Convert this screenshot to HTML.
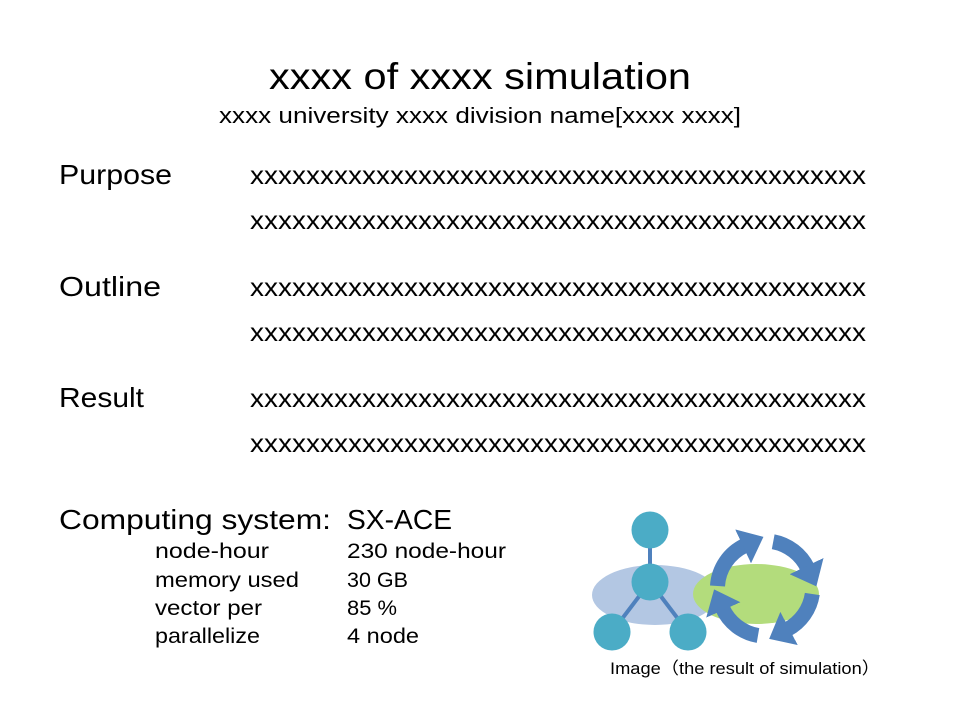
<!DOCTYPE html>
<html><head><meta charset="utf-8"><style>html,body{margin:0;padding:0;background:#fff}svg{display:block}</style></head>
<body>
<svg width="960" height="720" viewBox="0 0 960 720" xmlns="http://www.w3.org/2000/svg" font-family="'Liberation Sans', sans-serif" fill="#000">
<defs>
<marker id="ah" viewBox="0 0 10 10" refX="1" refY="5" markerUnits="strokeWidth" markerWidth="1.5" markerHeight="2.5" orient="auto" preserveAspectRatio="none">
<path d="M0,0 L10,5 L0,10 z" fill="#4f81bd"/></marker>
</defs>
<text x="480" y="89" font-size="37" text-anchor="middle" textLength="422" lengthAdjust="spacingAndGlyphs">xxxx of xxxx simulation</text>
<text x="480" y="123" font-size="22" text-anchor="middle" textLength="522" lengthAdjust="spacingAndGlyphs">xxxx university xxxx division  name[xxxx xxxx]</text>

<g font-size="28">
<text x="59" y="184" textLength="113" lengthAdjust="spacingAndGlyphs">Purpose</text>
<text x="59" y="296" textLength="102" lengthAdjust="spacingAndGlyphs">Outline</text>
<text x="59" y="407" textLength="85" lengthAdjust="spacingAndGlyphs">Result</text>
</g>
<g font-size="26">
<text x="250" y="184" textLength="616" lengthAdjust="spacingAndGlyphs">xxxxxxxxxxxxxxxxxxxxxxxxxxxxxxxxxxxxxxxxxxxx</text>
<text x="250" y="229" textLength="616" lengthAdjust="spacingAndGlyphs">xxxxxxxxxxxxxxxxxxxxxxxxxxxxxxxxxxxxxxxxxxxx</text>
<text x="250" y="296" textLength="616" lengthAdjust="spacingAndGlyphs">xxxxxxxxxxxxxxxxxxxxxxxxxxxxxxxxxxxxxxxxxxxx</text>
<text x="250" y="341" textLength="616" lengthAdjust="spacingAndGlyphs">xxxxxxxxxxxxxxxxxxxxxxxxxxxxxxxxxxxxxxxxxxxx</text>
<text x="250" y="407" textLength="616" lengthAdjust="spacingAndGlyphs">xxxxxxxxxxxxxxxxxxxxxxxxxxxxxxxxxxxxxxxxxxxx</text>
<text x="250" y="452" textLength="616" lengthAdjust="spacingAndGlyphs">xxxxxxxxxxxxxxxxxxxxxxxxxxxxxxxxxxxxxxxxxxxx</text>
</g>

<text x="59" y="529" font-size="28" textLength="272" lengthAdjust="spacingAndGlyphs">Computing system:</text>
<text x="347" y="529" font-size="28" textLength="105" lengthAdjust="spacingAndGlyphs">SX-ACE</text>
<g font-size="21">
<text x="155" y="558" textLength="114" lengthAdjust="spacingAndGlyphs">node-hour</text>
<text x="155" y="587" textLength="144" lengthAdjust="spacingAndGlyphs">memory used</text>
<text x="155" y="615" textLength="107" lengthAdjust="spacingAndGlyphs">vector per</text>
<text x="155" y="643" textLength="105" lengthAdjust="spacingAndGlyphs">parallelize</text>
<text x="347" y="558" textLength="159" lengthAdjust="spacingAndGlyphs">230 node-hour</text>
<text x="347" y="587" textLength="61" lengthAdjust="spacingAndGlyphs">30 GB</text>
<text x="347" y="615" textLength="50" lengthAdjust="spacingAndGlyphs">85 %</text>
<text x="347" y="643" textLength="72" lengthAdjust="spacingAndGlyphs">4 node</text>
</g>

<!-- image -->
<ellipse cx="655" cy="595" rx="63" ry="30" fill="#b3c7e3"/>
<ellipse cx="756" cy="594" rx="63" ry="30" fill="#b3dc7c"/>
<g stroke="#4f81bd" stroke-width="4">
<line x1="650" y1="530" x2="650" y2="582"/>
<line x1="650" y1="582" x2="612" y2="632"/>
<line x1="650" y1="582" x2="688" y2="632"/>
</g>
<g fill="#4bacc6">
<circle cx="650" cy="530" r="18.5"/>
<circle cx="650" cy="582" r="18.5"/>
<circle cx="612" cy="632" r="18.5"/>
<circle cx="688" cy="632" r="18.5"/>
</g>
<g fill="none" stroke="#4f81bd" stroke-width="15" marker-end="url(#ah)">
<path d="M717.5,586 A48,48 0 0 1 745.1,545.4"/>
<path d="M773.2,541.7 A48,48 0 0 1 807.6,568.1"/>
<path d="M812.3,594 A48,48 0 0 1 787.1,629.5"/>
<path d="M758,635.5 A48,48 0 0 1 722.4,607.9"/>
</g>
<text x="610" y="674" font-size="17" textLength="270" lengthAdjust="spacingAndGlyphs">Image（the result of simulation）</text>
</svg>
</body></html>
